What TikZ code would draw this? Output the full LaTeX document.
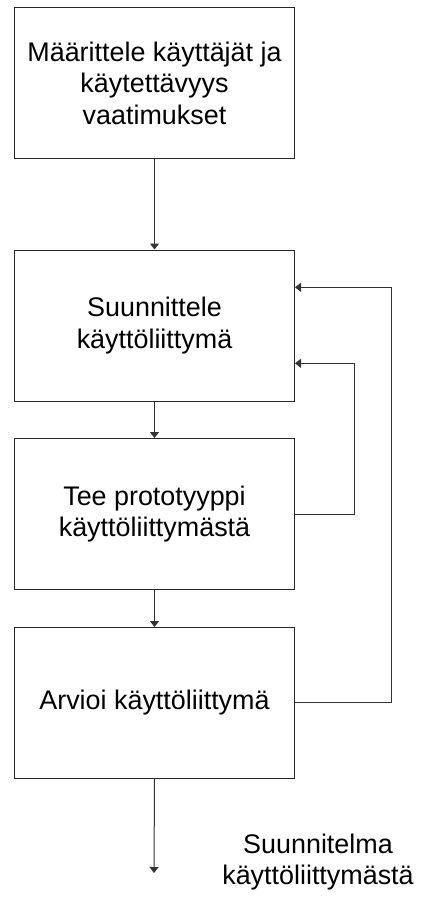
\documentclass[tikz,border=0pt]{standalone}
\usepackage{fontspec}
\setmainfont{Liberation Sans}
\usetikzlibrary{arrows.meta}
\begin{document}
\begin{tikzpicture}[x=1pt,y=-1pt,
  stage/.style={draw=black!85, line width=1pt, minimum width=280pt, minimum height=151pt,
    inner sep=0pt, align=center, font=\fontsize{26.9}{31.5}\selectfont, anchor=north west},
  flow/.style={draw=black!80, line width=1pt, -{Triangle[width=9pt,length=6pt]}}]
  \useasboundingbox (0,0) rectangle (441,911);
  \node[stage] (define) at (14,7) {Määrittele käyttäjät ja\\käytettävyys\\vaatimukset};
  \node[stage] (design) at (14,249.5) {Suunnittele\\käyttöliittymä};
  \node[stage] (proto) at (14,438) {Tee prototyyppi\\käyttöliittymästä};
  \node[stage] (eval) at (14,627) {Arvioi käyttöliittymä};
  \node[align=center, font=\fontsize{26.9}{31.5}\selectfont] (result) at (318,862) {Suunnitelma\\käyttöliittymästä};
  \coordinate (out) at (154,873);
  \coordinate (loopA) at (354,514);
  \coordinate (loopB) at (391.5,702.7);

  \draw[flow] (define.south) -- (design.north);
  \draw[flow] (design.south) -- (proto.north);
  \draw[flow] (proto.south) -- (eval.north);
  \draw[flow] (eval.south) -- (out);
  \draw[flow] (proto.east |- loopA) -- (loopA) -- (loopA |- 0,363.3) -- (design.east |- 0,363.3);
  \draw[flow] (eval.east |- loopB) -- (loopB) -- (loopB |- 0,287.3) -- (design.east |- 0,287.3);
\end{tikzpicture}
\end{document}
